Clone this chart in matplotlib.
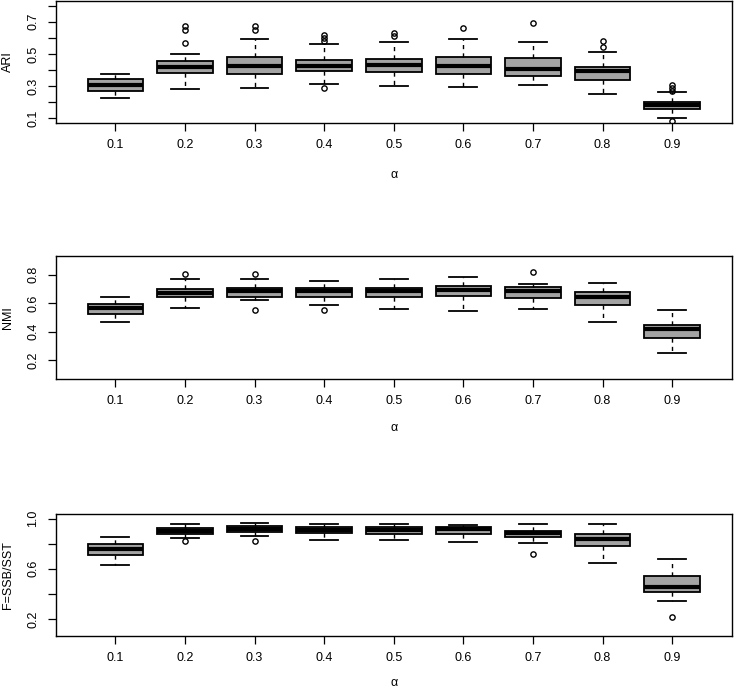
import matplotlib
matplotlib.use("Agg")
import matplotlib.pyplot as plt

plt.rcParams['font.family'] = ['Liberation Sans', 'DejaVu Sans']

alphas = ["0.1", "0.2", "0.3", "0.4", "0.5", "0.6", "0.7", "0.8", "0.9"]

# ARI
ari_whislo = [0.229, 0.285, 0.287, 0.314, 0.299, 0.295, 0.305, 0.250, 0.104]
ari_q1     = [0.268, 0.379, 0.375, 0.392, 0.386, 0.375, 0.365, 0.336, 0.158]
ari_med    = [0.310, 0.418, 0.425, 0.425, 0.429, 0.425, 0.408, 0.394, 0.182]
ari_q3     = [0.345, 0.455, 0.480, 0.462, 0.468, 0.478, 0.474, 0.418, 0.203]
ari_whishi = [0.377, 0.497, 0.591, 0.560, 0.571, 0.595, 0.571, 0.513, 0.262]
ari_fliers = [[], [0.671, 0.651, 0.568], [0.671, 0.649], [0.616, 0.599, 0.579, 0.287],
              [0.632, 0.612], [0.663], [0.690], [0.583, 0.544], [0.305, 0.289, 0.273, 0.084]]

# NMI
nmi_whislo = [0.470, 0.570, 0.624, 0.587, 0.561, 0.545, 0.559, 0.470, 0.254]
nmi_q1     = [0.526, 0.641, 0.643, 0.645, 0.643, 0.648, 0.636, 0.591, 0.359]
nmi_med    = [0.570, 0.673, 0.685, 0.688, 0.685, 0.692, 0.688, 0.645, 0.416]
nmi_q3     = [0.598, 0.699, 0.704, 0.709, 0.709, 0.718, 0.716, 0.678, 0.446]
nmi_whishi = [0.645, 0.767, 0.772, 0.755, 0.767, 0.786, 0.732, 0.744, 0.552]
nmi_fliers = [[], [0.805], [0.809, 0.556], [0.552], [], [], [0.819], [], []]

# F = SSB/SST
f_whislo = [0.629, 0.841, 0.859, 0.827, 0.827, 0.812, 0.804, 0.644, 0.344]
f_q1     = [0.710, 0.880, 0.890, 0.882, 0.880, 0.875, 0.856, 0.778, 0.417]
f_med    = [0.757, 0.903, 0.919, 0.908, 0.906, 0.916, 0.882, 0.833, 0.456]
f_q3     = [0.799, 0.924, 0.942, 0.932, 0.929, 0.932, 0.901, 0.880, 0.540]
f_whishi = [0.854, 0.953, 0.961, 0.953, 0.953, 0.950, 0.953, 0.953, 0.676]
f_fliers = [[], [0.820], [0.820], [], [], [], [0.718], [], [0.216]]

panels = [
    dict(lab="ARI", lo=ari_whislo, q1=ari_q1, med=ari_med, q3=ari_q3, hi=ari_whishi, fl=ari_fliers,
         ylim=(0.1, 0.8), ticks=[0.1, 0.2, 0.3, 0.4, 0.5, 0.6, 0.7, 0.8],
         labeled=[0.1, 0.3, 0.5, 0.7], top=1, bot=123, alpha_y=175),
    dict(lab="NMI", lo=nmi_whislo, q1=nmi_q1, med=nmi_med, q3=nmi_q3, hi=nmi_whishi, fl=nmi_fliers,
         ylim=(0.1, 0.9), ticks=[0.2, 0.4, 0.6, 0.8],
         labeled=[0.2, 0.4, 0.6, 0.8], top=256, bot=379, alpha_y=428),
    dict(lab="F=SSB/SST", lo=f_whislo, q1=f_q1, med=f_med, q3=f_q3, hi=f_whishi, fl=f_fliers,
         ylim=(0.1, 1.0), ticks=[0.2, 0.4, 0.6, 0.8, 1.0],
         labeled=[0.2, 0.6, 1.0], top=514, bot=636, alpha_y=683),
]

W, H = 737, 692
fig = plt.figure(figsize=(W / 100, H / 100), dpi=100)

left_px, right_px = 55.5, 732
for p in panels:
    ax = fig.add_axes([left_px / W, 1 - p['bot'] / H, (right_px - left_px) / W, (p['bot'] - p['top']) / H])
    stats = []
    for i in range(len(alphas)):
        stats.append(dict(med=p['med'][i], q1=p['q1'][i], q3=p['q3'][i],
                          whislo=p['lo'][i], whishi=p['hi'][i], fliers=p['fl'][i], label=alphas[i]))
    ax.bxp(stats, positions=range(1, len(alphas) + 1), widths=0.8, patch_artist=True,
           boxprops=dict(facecolor='#A3A3A3', edgecolor='black', linewidth=1.3),
           medianprops=dict(color='black', linewidth=3.0, solid_capstyle='butt'),
           whiskerprops=dict(color='black', linewidth=1.0, linestyle=(0, (3, 3))),
           capprops=dict(color='black', linewidth=1.3),
           flierprops=dict(marker='o', markerfacecolor='none', markeredgecolor='black',
                           markersize=3.8, markeredgewidth=1.0, linestyle='none'),
           capwidths=0.4)
    lo, hi = p['ylim']
    ext = 0.04 * (hi - lo)
    ax.set_ylim(lo - ext, hi + ext)
    ax.set_xlim(0.5 - 0.36, 9.5 + 0.36)
    ax.set_yticks(p['ticks'])
    ax.set_yticklabels([("%.1f" % t) if t in p['labeled'] else "" for t in p['ticks']],
                       rotation=90, va='center', fontsize=9)
    ax.set_xticks(range(1, len(alphas) + 1))
    ax.set_xticklabels(alphas, fontsize=9)
    ax.tick_params(axis='both', direction='out', length=5.5, width=0.9, pad=6)
    for s in ax.spines.values():
        s.set_linewidth(1.0)
    fig.text(8 / W, 1 - (p['top'] + p['bot']) / 2 / H, p['lab'], rotation=90,
             ha='center', va='center', fontsize=9)
    fig.text((left_px + right_px) / 2 / W, 1 - p['alpha_y'] / H, "α",
             ha='center', va='center', fontsize=9)

fig.savefig("out.png", dpi=100)
